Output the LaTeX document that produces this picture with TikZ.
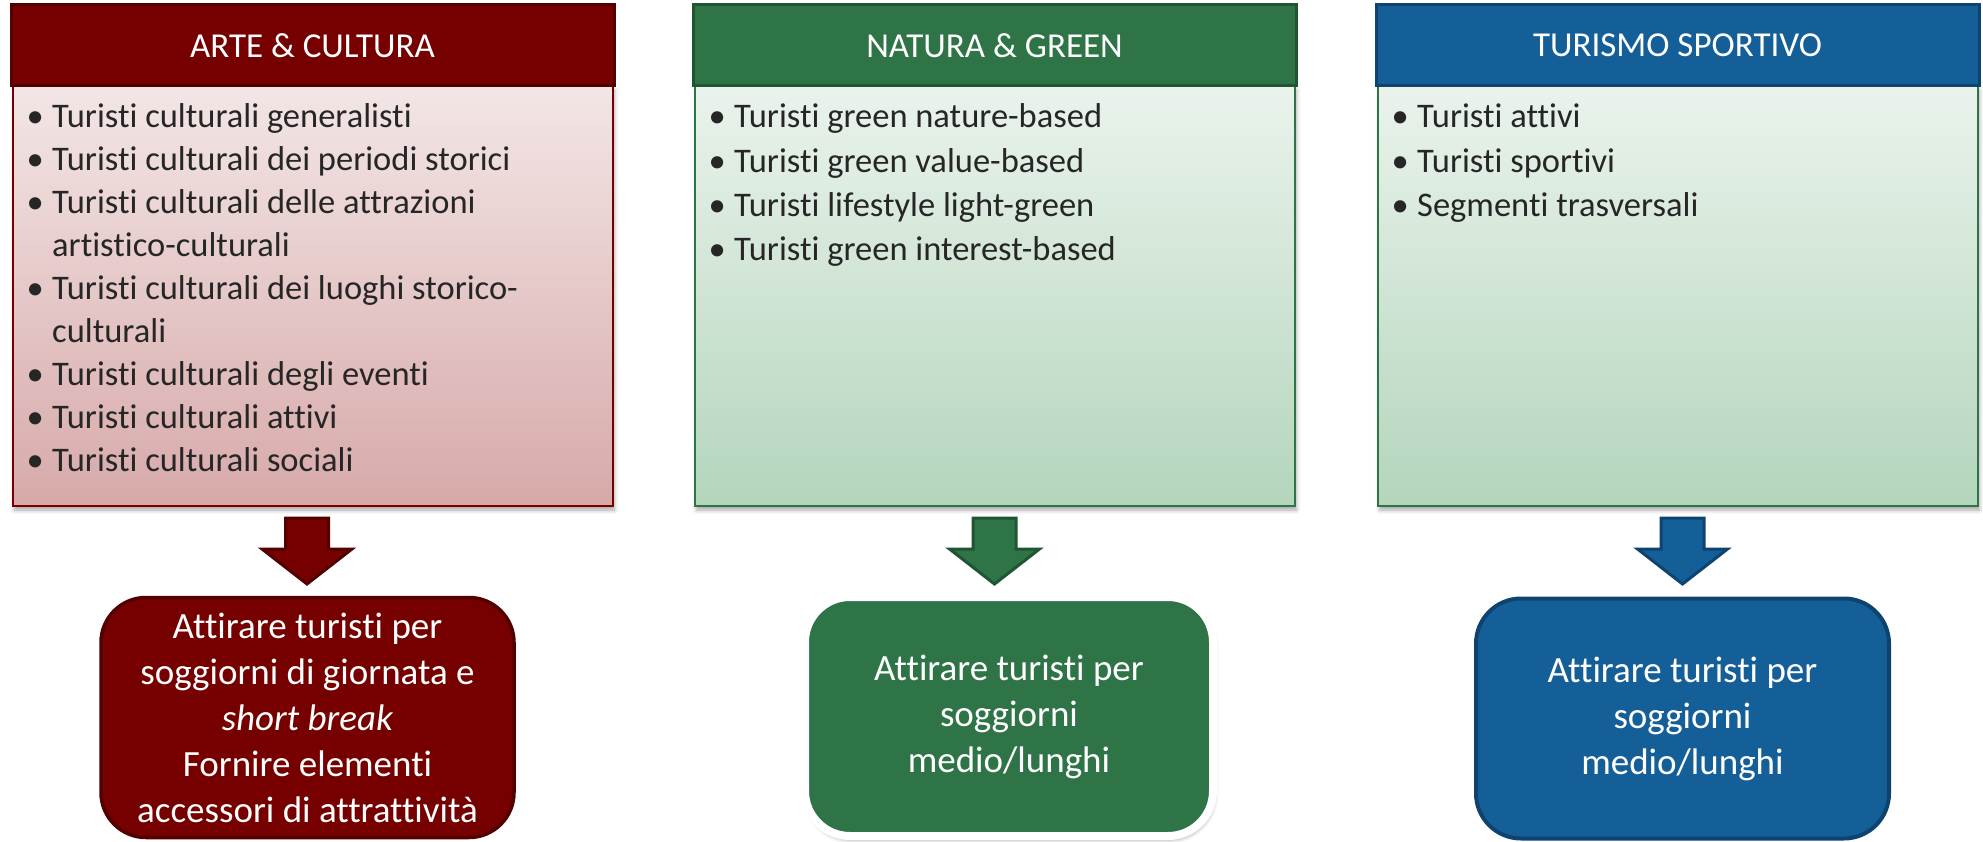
\documentclass[tikz,border=0pt]{standalone}
\usepackage{fontspec}
\setmainfont{Carlito}[Ligatures=NoCommon]
\usetikzlibrary{shadows.blur}

\definecolor{artedark}{HTML}{760000}
\definecolor{arteline}{HTML}{520000}
\definecolor{artetop}{HTML}{F3E6E6}
\definecolor{artebot}{HTML}{D7A9A9}
\definecolor{natdark}{HTML}{2E7446}
\definecolor{natline}{HTML}{1F5631}
\definecolor{nattop}{HTML}{EAF3EC}
\definecolor{natbot}{HTML}{B4D5BC}
\definecolor{sportdark}{HTML}{155F99}
\definecolor{sportline}{HTML}{0E4370}
\definecolor{listink}{HTML}{262626}

% bullet and hanging indent for the segment lists
\newcommand\itm{\makebox[20pt]{\textbullet}\hspace{7pt}}
\newcommand\cont{\hspace*{27pt}}
\newcommand\lst[2]{\vtop{\baselineskip=#1\lineskiplimit=-100pt #2}}

\tikzset{
  softshadow/.style={blur shadow={shadow xshift=1.5pt, shadow yshift=-4pt,
      shadow blur radius=4pt, shadow opacity=35}},
  headbox/.style n args={2}{rectangle, fill=#1, draw=#2, line width=3pt,
      minimum width=603pt, minimum height=81pt, inner sep=0pt, text=white,
      font=\fontsize{35}{42}\selectfont},
  listbox/.style n args={3}{rectangle, top color=#1, bottom color=#2, draw=#3,
      line width=2pt, minimum width=600pt, minimum height=420pt, inner sep=0pt,
      softshadow},
  listtext/.style={anchor=base west, inner sep=0pt, text=listink,
      font=\fontsize{34.5}{43.5}\selectfont},
  goalbox/.style n args={2}{rectangle, rounded corners=45pt, fill=#1, draw=#2,
      line width=3.5pt, minimum width=413pt, minimum height=240pt,
      inner sep=0pt, text=white, align=center,
      font=\fontsize{37}{46}\selectfont},
  pics/downarrow/.style n args={2}{code={
      \draw[fill=#1, draw=#2, line width=3pt, line join=miter]
        (-21.5,-66) -- (21.5,-66) -- (21.5,-35) -- (45,-35) -- (0,0)
        -- (-45,-35) -- (-21.5,-35) -- cycle;
  }},
}

\begin{document}
\begin{tikzpicture}[x=1pt, y=-1pt]
\useasboundingbox (0,0) rectangle (1983,842);

% ---------- Arte & Cultura ----------
\node[listbox={artetop}{artebot}{artedark}] (b1) at (313,296) {};
\node[headbox={artedark}{arteline}] (h1) at (312.5,45.5) {ARTE \& CULTURA};
\node[listtext] (t1) at (25,128) {\lst{43pt}{%
  \hbox{\itm Turisti culturali generalisti}
  \hbox{\itm Turisti culturali dei periodi storici}
  \hbox{\itm Turisti culturali delle attrazioni}
  \hbox{\cont artistico-culturali}
  \hbox{\itm Turisti culturali dei luoghi storico-}
  \hbox{\cont culturali}
  \hbox{\itm Turisti culturali degli eventi}
  \hbox{\itm Turisti culturali attivi}
  \hbox{\itm Turisti culturali sociali}}};
\pic at (307,584) {downarrow={artedark}{arteline}};
\node[goalbox={artedark}{arteline}] (r1) at (307.5,717.5)
  {Attirare turisti per\\ soggiorni di giornata e\\ \textit{short break}\\
   Fornire elementi\\ accessori di attrattività};

% ---------- Natura & Green ----------
\node[listbox={nattop}{natbot}{natdark}] (b2) at (995,296) {};
\node[headbox={natdark}{natline}] (h2) at (994.5,45.5) {NATURA \& GREEN};
\node[listtext] (t2) at (707,128) {\lst{44.3pt}{%
  \hbox{\itm Turisti green nature-based}
  \hbox{\itm Turisti green value-based}
  \hbox{\itm Turisti lifestyle light-green}
  \hbox{\itm Turisti green interest-based}}};
\pic at (994.5,584) {downarrow={natdark}{natline}};
\node[goalbox={natdark}{white}, line width=8pt, minimum width=408pt,
      minimum height=239pt, softshadow] (r2) at (1009,716.5)
  {Attirare turisti per\\ soggiorni\\ medio/lunghi};

% ---------- Turismo sportivo ----------
\node[listbox={nattop}{natbot}{natdark}] (b3) at (1678,296) {};
\node[headbox={sportdark}{sportline}] (h3) at (1677.5,45.5) {TURISMO SPORTIVO};
\node[listtext] (t3) at (1390,128) {\lst{44.3pt}{%
  \hbox{\itm Turisti attivi}
  \hbox{\itm Turisti sportivi}
  \hbox{\itm Segmenti trasversali}}};
\pic at (1682.5,584) {downarrow={sportdark}{sportline}};
\node[goalbox={sportdark}{sportline}, line width=4pt] (r3) at (1682.5,718.5)
  {Attirare turisti per\\ soggiorni\\ medio/lunghi};
\end{tikzpicture}
\end{document}
